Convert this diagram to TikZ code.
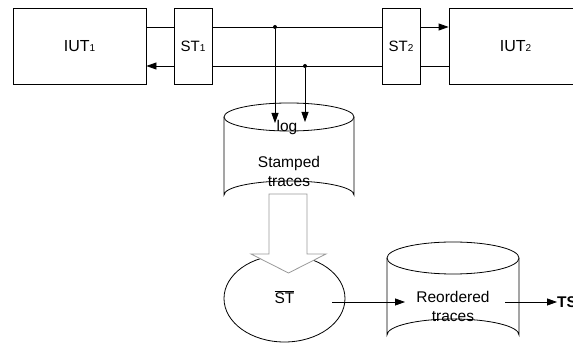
\documentclass[tikz,border=0pt]{standalone}
\usepackage{fontspec}
\setmainfont{Liberation Sans}
\usetikzlibrary{arrows.meta,shapes.geometric}
\tikzset{
  box/.style={draw=black, line width=0.8pt, minimum height=76pt, inner sep=0pt, font=\fontsize{16}{18}\selectfont},
  line/.style={draw=black, line width=0.8pt},
  arr/.style={line, -{Triangle[length=10pt,width=7pt]}},
  dotnode/.style={circle, fill=black, inner sep=0pt, minimum size=4pt},
  lbl/.style={font=\fontsize{15.5}{18}\selectfont, inner sep=0pt, align=center},
}
\newcommand{\sub}[1]{{\fontsize{10}{12}\selectfont #1}}
\begin{document}
\begin{tikzpicture}[x=1pt,y=-1pt]
\clip (0,0) rectangle (573,344);
\fill[white] (0,0) rectangle (573,344);
% boxes
\node[box, minimum width=133pt] (IUT1) at (79.5,46) {IUT\sub{1}};
\node[box, minimum width=38pt, font=\fontsize{15}{18}\selectfont] (ST1) at (193,46) {ST\sub{1}};
\node[box, minimum width=38pt, font=\fontsize{15}{18}\selectfont] (ST2) at (401,46) {ST\sub{2}};
\node[box, minimum width=133pt] (IUT2) at (515.5,46) {IUT\sub{2}};
\coordinate (top) at (0,27);
\coordinate (bot) at (0,66);
% top line
\draw[line] (IUT1.east |- top) -- (ST1.west |- top);
\draw[line] (ST1.east |- top) -- (ST2.west |- top);
\draw[arr] (ST2.east |- top) -- (IUT2.west |- top);
% bottom line
\draw[line] (IUT2.west |- bot) -- (ST2.east |- bot);
\draw[line] (ST2.west |- bot) -- (ST1.east |- bot);
\draw[arr] (ST1.west |- bot) -- (IUT1.east |- bot);
% stamped traces cylinder
\draw[line, fill=white] (224,117) -- (224,195) arc[start angle=180, end angle=360, x radius=65, y radius=14] -- (354,117);
\draw[line, fill=white] (289,117) ellipse[x radius=65, y radius=14];
\node[lbl] (log) at (287,127) {log};
\node[lbl] (stamped) at (289,171) {Stamped\\[1pt]traces};
% taps
\node[dotnode] (d1) at (275,27) {};
\node[dotnode] (d2) at (305,66) {};
\coordinate (e1) at (275,123);
\coordinate (e2) at (305,122);
\draw[arr] (d1) -- (e1);
\draw[arr] (d2) -- (e2);
% ST-bar ellipse
\node[draw=black, line width=0.8pt, ellipse, minimum width=121pt, minimum height=87pt, inner sep=0pt] (stbar) at (284.5,298.5) {};
\node[lbl] (stbartxt) at (284.5,297) {$\overline{\mbox{ST}}$};
% hollow arrow
\draw[draw=black!40, line width=0.8pt, fill=white, line join=miter]
  (269,194) -- (307,194) -- (307,254) -- (326,254) -- (288.5,273) -- (251,254) -- (269,254) -- cycle;
% reordered traces cylinder
\draw[line, fill=white] (387,258) -- (387,335) arc[start angle=180, end angle=360, x radius=66, y radius=16] -- (519,258);
\draw[line, fill=white] (453,258) ellipse[x radius=66, y radius=16];
\node[lbl] (reord) at (453,306) {Reordered\\[1pt]traces};
\coordinate (a1) at (332,302);
\coordinate (a2) at (405,302);
\coordinate (b1) at (505,302);
\draw[arr] (a1) -- (a2);
\node[lbl, anchor=west, font=\fontsize{15.5}{18}\selectfont\bfseries] (TS) at (557,302) {TS};
\draw[arr] (b1) -- (TS.west);
\end{tikzpicture}
\end{document}
